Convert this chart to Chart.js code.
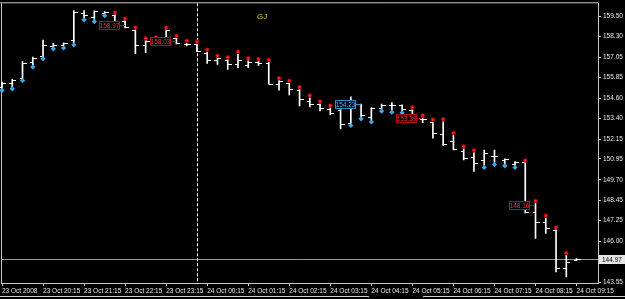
<!DOCTYPE html>
<html>
<head>
<meta charset="utf-8">
<script src="https://cdn.jsdelivr.net/npm/chart.js@4.4.1/dist/chart.umd.min.js"></script>
<style>
html, body { margin: 0; padding: 0; background: #000; }
</style>
</head>
<body>
<canvas id="gj" width="625" height="299"></canvas>
<script>
// GJ, M15 bars, 23 Oct 2008 19:15 .. 24 Oct 2008 09:15
const opens = [155.28,155.52,155.81,156.77,157.13,157.73,157.79,158.08,159.72,159.46,
  159.73,159.61,159.22,158.68,157.77,158.02,158.26,158.20,157.85,157.85,
  157.31,156.87,156.89,156.63,156.59,156.77,156.69,155.44,155.52,155.10,
  154.44,154.26,153.94,153.90,153.13,154.23,153.46,154.02,154.20,154.17,
  153.90,153.33,153.16,152.47,152.05,151.45,151.09,150.86,151.15,150.86,
  150.62,150.74,147.77,147.17,146.71,144.39,144.88];
const highs = [155.57,155.73,156.79,157.07,158.08,157.89,157.92,159.86,159.86,159.84,
  159.80,159.62,159.26,158.72,158.07,158.14,158.72,158.22,157.92,157.86,
  157.38,157.03,156.93,157.27,156.87,156.83,156.77,155.68,155.53,155.14,
  154.64,154.28,154.04,153.94,154.68,154.24,154.04,154.24,154.34,154.20,
  153.93,153.44,153.19,153.21,152.39,151.59,151.35,151.49,151.49,150.96,
  150.80,150.75,148.31,147.43,146.72,145.18,144.98];
const lows = [155.19,155.28,155.78,156.59,157.09,157.68,157.73,157.92,159.42,159.32,
  159.67,159.18,158.82,157.27,157.33,157.79,158.26,157.86,157.73,157.39,
  156.69,156.63,156.33,156.43,156.43,156.57,155.44,155.08,154.80,154.14,
  154.08,153.84,153.60,152.75,153.08,153.48,153.29,153.94,153.88,153.84,
  153.60,153.13,152.20,151.75,151.50,150.90,150.20,150.56,150.74,150.66,
  150.56,147.71,146.18,146.48,144.18,143.88,144.85];
const closes = [155.52,155.69,156.71,157.01,157.79,157.82,157.90,159.76,159.58,159.82,
  159.76,159.22,158.86,157.77,158.02,157.90,158.68,157.92,157.85,157.43,
  156.87,156.99,156.63,156.87,156.79,156.69,155.44,155.63,155.14,154.54,
  154.24,154.04,153.74,153.05,154.24,153.60,154.00,154.20,154.20,153.96,
  153.66,153.33,152.49,151.87,151.57,151.03,150.68,151.33,151.15,150.92,
  150.77,147.77,147.17,146.78,144.39,144.78,144.97];

// arrows: blue under the low, red over the high
const upArrowBars = [0,1,2,3,4,5,6,7,8,9,10,34,35,36,37,38,39,47,48,49,50];
const downArrowBars = [11,12,13,14,15,16,17,18,19,20,21,22,23,24,25,26,27,28,29,30,31,32,33,
  40,41,42,43,44,45,46,51,52,53,54,55];

// price labels on the chart
const labelPrices = [158.97, 158.03, 154.23, 153.39, 148.16];
const labelBars = [11, 16, 34, 40, 51];
const labelIsBlue = [false, false, true, false, false];

const timeTickBars = [0,4,8,12,16,20,24,28,32,36,40,44,48,52,56];
const timeLabels = ["23 Oct 2008","23 Oct 20:15","23 Oct 21:15","23 Oct 22:15","23 Oct 23:15",
  "24 Oct 00:15","24 Oct 01:15","24 Oct 02:15","24 Oct 03:15","24 Oct 04:15",
  "24 Oct 05:15","24 Oct 06:15","24 Oct 07:15","24 Oct 08:15","24 Oct 09:15"];
const priceTicks = ["159.50","158.30","157.05","155.85","154.60","153.40","152.15",
  "150.95","149.70","148.45","147.25","146.00","144.80","143.55"];

const bidPrice = 144.97;
const separatorBar = 19;
const symbolName = "GJ";

const FONT = '"Liberation Sans", Arial, sans-serif';
const RED = '#ff2020';
const BLUE = '#3aaaf0';

const mt4 = {
  id: 'mt4',
  beforeDraw(chart) {
    const c = chart.ctx;
    c.save();
    c.fillStyle = '#000';
    c.fillRect(0, 0, chart.width, chart.height);
    c.restore();
  },
  beforeDatasetsDraw(chart) {
    const c = chart.ctx, a = chart.chartArea, x = chart.scales.x, y = chart.scales.y;
    c.save();
    c.lineWidth = 1;
    c.strokeStyle = '#c8c8c8';
    c.beginPath();
    c.moveTo(0, a.top - 0.5); c.lineTo(a.right, a.top - 0.5);
    c.moveTo(a.left + 0.5, a.top); c.lineTo(a.left + 0.5, a.bottom);
    c.stroke();
    // bid line
    const yb = Math.round(y.getPixelForValue(bidPrice)) + 0.5;
    c.strokeStyle = '#9a9a9a';
    c.beginPath(); c.moveTo(a.left, yb); c.lineTo(a.right, yb); c.stroke();
    // day separator
    const xs = Math.round(x.getPixelForValue(separatorBar)) + 0.5;
    c.strokeStyle = '#ffffff';
    c.setLineDash([3, 2]);
    c.beginPath(); c.moveTo(xs, a.top); c.lineTo(xs, a.bottom); c.stroke();
    c.restore();
  },
  afterDatasetsDraw(chart) {
    const c = chart.ctx, x = chart.scales.x, y = chart.scales.y;
    c.save();
    // open / close ticks
    c.strokeStyle = '#ffffff';
    c.lineWidth = 1;
    c.beginPath();
    for (let i = 0; i < opens.length; i++) {
      const px = Math.round(x.getPixelForValue(i));
      const yo = Math.round(y.getPixelForValue(opens[i])) + 0.5;
      const yc = Math.round(y.getPixelForValue(closes[i])) + 0.5;
      c.moveTo(px - 3, yo); c.lineTo(px, yo);
      c.moveTo(px, yc); c.lineTo(px + 4, yc);
    }
    c.stroke();
    // red arrows
    for (const i of downArrowBars) {
      const px = x.getPixelForValue(i), py = y.getPixelForValue(highs[i]) - 2;
      c.fillStyle = '#8c0000';
      c.beginPath(); c.arc(px, py, 2.3, 0, Math.PI * 2); c.fill();
      c.fillStyle = RED;
      c.beginPath(); c.arc(px, py, 1.4, 0, Math.PI * 2); c.fill();
    }
    // blue arrows
    c.fillStyle = BLUE;
    for (const i of upArrowBars) {
      const px = x.getPixelForValue(i), py = y.getPixelForValue(lows[i]) + 2;
      c.beginPath();
      c.moveTo(px, py - 2.6); c.lineTo(px + 2.6, py); c.lineTo(px, py + 2.6); c.lineTo(px - 2.6, py);
      c.closePath(); c.fill();
    }
    // price labels
    c.font = '6.5px ' + FONT;
    c.textAlign = 'center';
    c.textBaseline = 'middle';
    for (let k = 0; k < labelPrices.length; k++) {
      const px = Math.round(x.getPixelForValue(labelBars[k])) + 5;
      const py = Math.round(y.getPixelForValue(labelPrices[k]));
      const edge = labelIsBlue[k] ? '#2f8fc8' : '#b01010';
      const txt = labelIsBlue[k] ? '#48b4ff' : '#ff2a2a';
      c.fillStyle = '#000';
      c.fillRect(px - 21, py - 4, 21, 9);
      c.strokeStyle = edge;
      c.strokeRect(px - 20.5, py - 3.5, 20, 8);
      c.beginPath(); c.moveTo(px, py + 0.5); c.lineTo(px + 5, py + 0.5); c.stroke();
      c.fillStyle = txt;
      c.fillText(labelPrices[k].toFixed(2), px - 10.5, py + 0.8);
    }
    // symbol name
    c.fillStyle = '#e2d23a';
    c.font = '8px ' + FONT;
    c.textAlign = 'left';
    c.fillText(symbolName, 257, 17);
    c.restore();
  },
  afterDraw(chart) {
    const c = chart.ctx, a = chart.chartArea, y = chart.scales.y;
    c.save();
    // bid price box on the price scale
    const yb = Math.round(y.getPixelForValue(bidPrice));
    c.fillStyle = '#e6e6e6';
    c.fillRect(a.right + 1, yb - 4, chart.width - a.right - 1, 9);
    c.fillStyle = '#000';
    c.font = '6.5px ' + FONT;
    c.textAlign = 'left';
    c.textBaseline = 'middle';
    c.fillText(bidPrice.toFixed(2), a.right + 4, yb + 0.8);
    // tab strip below the time scale
    c.strokeStyle = '#d0d0d0';
    c.beginPath();
    c.moveTo(0, 296.5); c.lineTo(369, 296.5);
    c.moveTo(423, 296.5); c.lineTo(chart.width, 296.5);
    c.stroke();
    c.restore();
  }
};

const ctx = document.getElementById('gj').getContext('2d');
const chart = new Chart(ctx, {
  type: 'bar',
  data: {
    datasets: [{
      data: highs.map((h, i) => ({ x: i, y: [lows[i], h] })),
      backgroundColor: '#ffffff',
      borderWidth: 0,
      barThickness: 1,
      grouped: false
    }]
  },
  options: {
    responsive: false,
    animation: false,
    devicePixelRatio: 1,
    layout: { autoPadding: false, padding: { left: 1, top: 2, right: 0, bottom: 0 } },
    plugins: { legend: { display: false }, tooltip: { enabled: false } },
    scales: {
      x: {
        type: 'linear',
        offset: false,
        min: -0.0975,
        max: 58.09,
        afterBuildTicks: s => { s.ticks = timeTickBars.map(v => ({ value: v })); },
        afterFit: s => { s.height = 16; },
        grid: { drawOnChartArea: false, drawTicks: true, tickLength: 3, color: '#c8c8c8', offset: false },
        border: { color: '#c8c8c8' },
        ticks: {
          align: 'start',
          autoSkip: false,
          maxRotation: 0,
          padding: 1,
          color: '#e8e8e8',
          font: { size: 6.5, family: FONT },
          callback: v => timeLabels[timeTickBars.indexOf(v)]
        }
      },
      y: {
        type: 'linear',
        position: 'right',
        min: 143.508,
        max: 160.294,
        afterBuildTicks: s => { s.ticks = priceTicks.map(v => ({ value: parseFloat(v) })); },
        afterFit: s => { s.width = 27; },
        grid: { drawOnChartArea: false, drawTicks: true, tickLength: 3, color: '#c8c8c8' },
        border: { color: '#c8c8c8' },
        ticks: {
          padding: 2,
          color: '#e8e8e8',
          font: { size: 6.5, family: FONT, lineHeight: 0.4 },
          callback: v => priceTicks.find(t => parseFloat(t) === v)
        }
      }
    }
  },
  plugins: [mt4]
});
</script>
</body>
</html>
